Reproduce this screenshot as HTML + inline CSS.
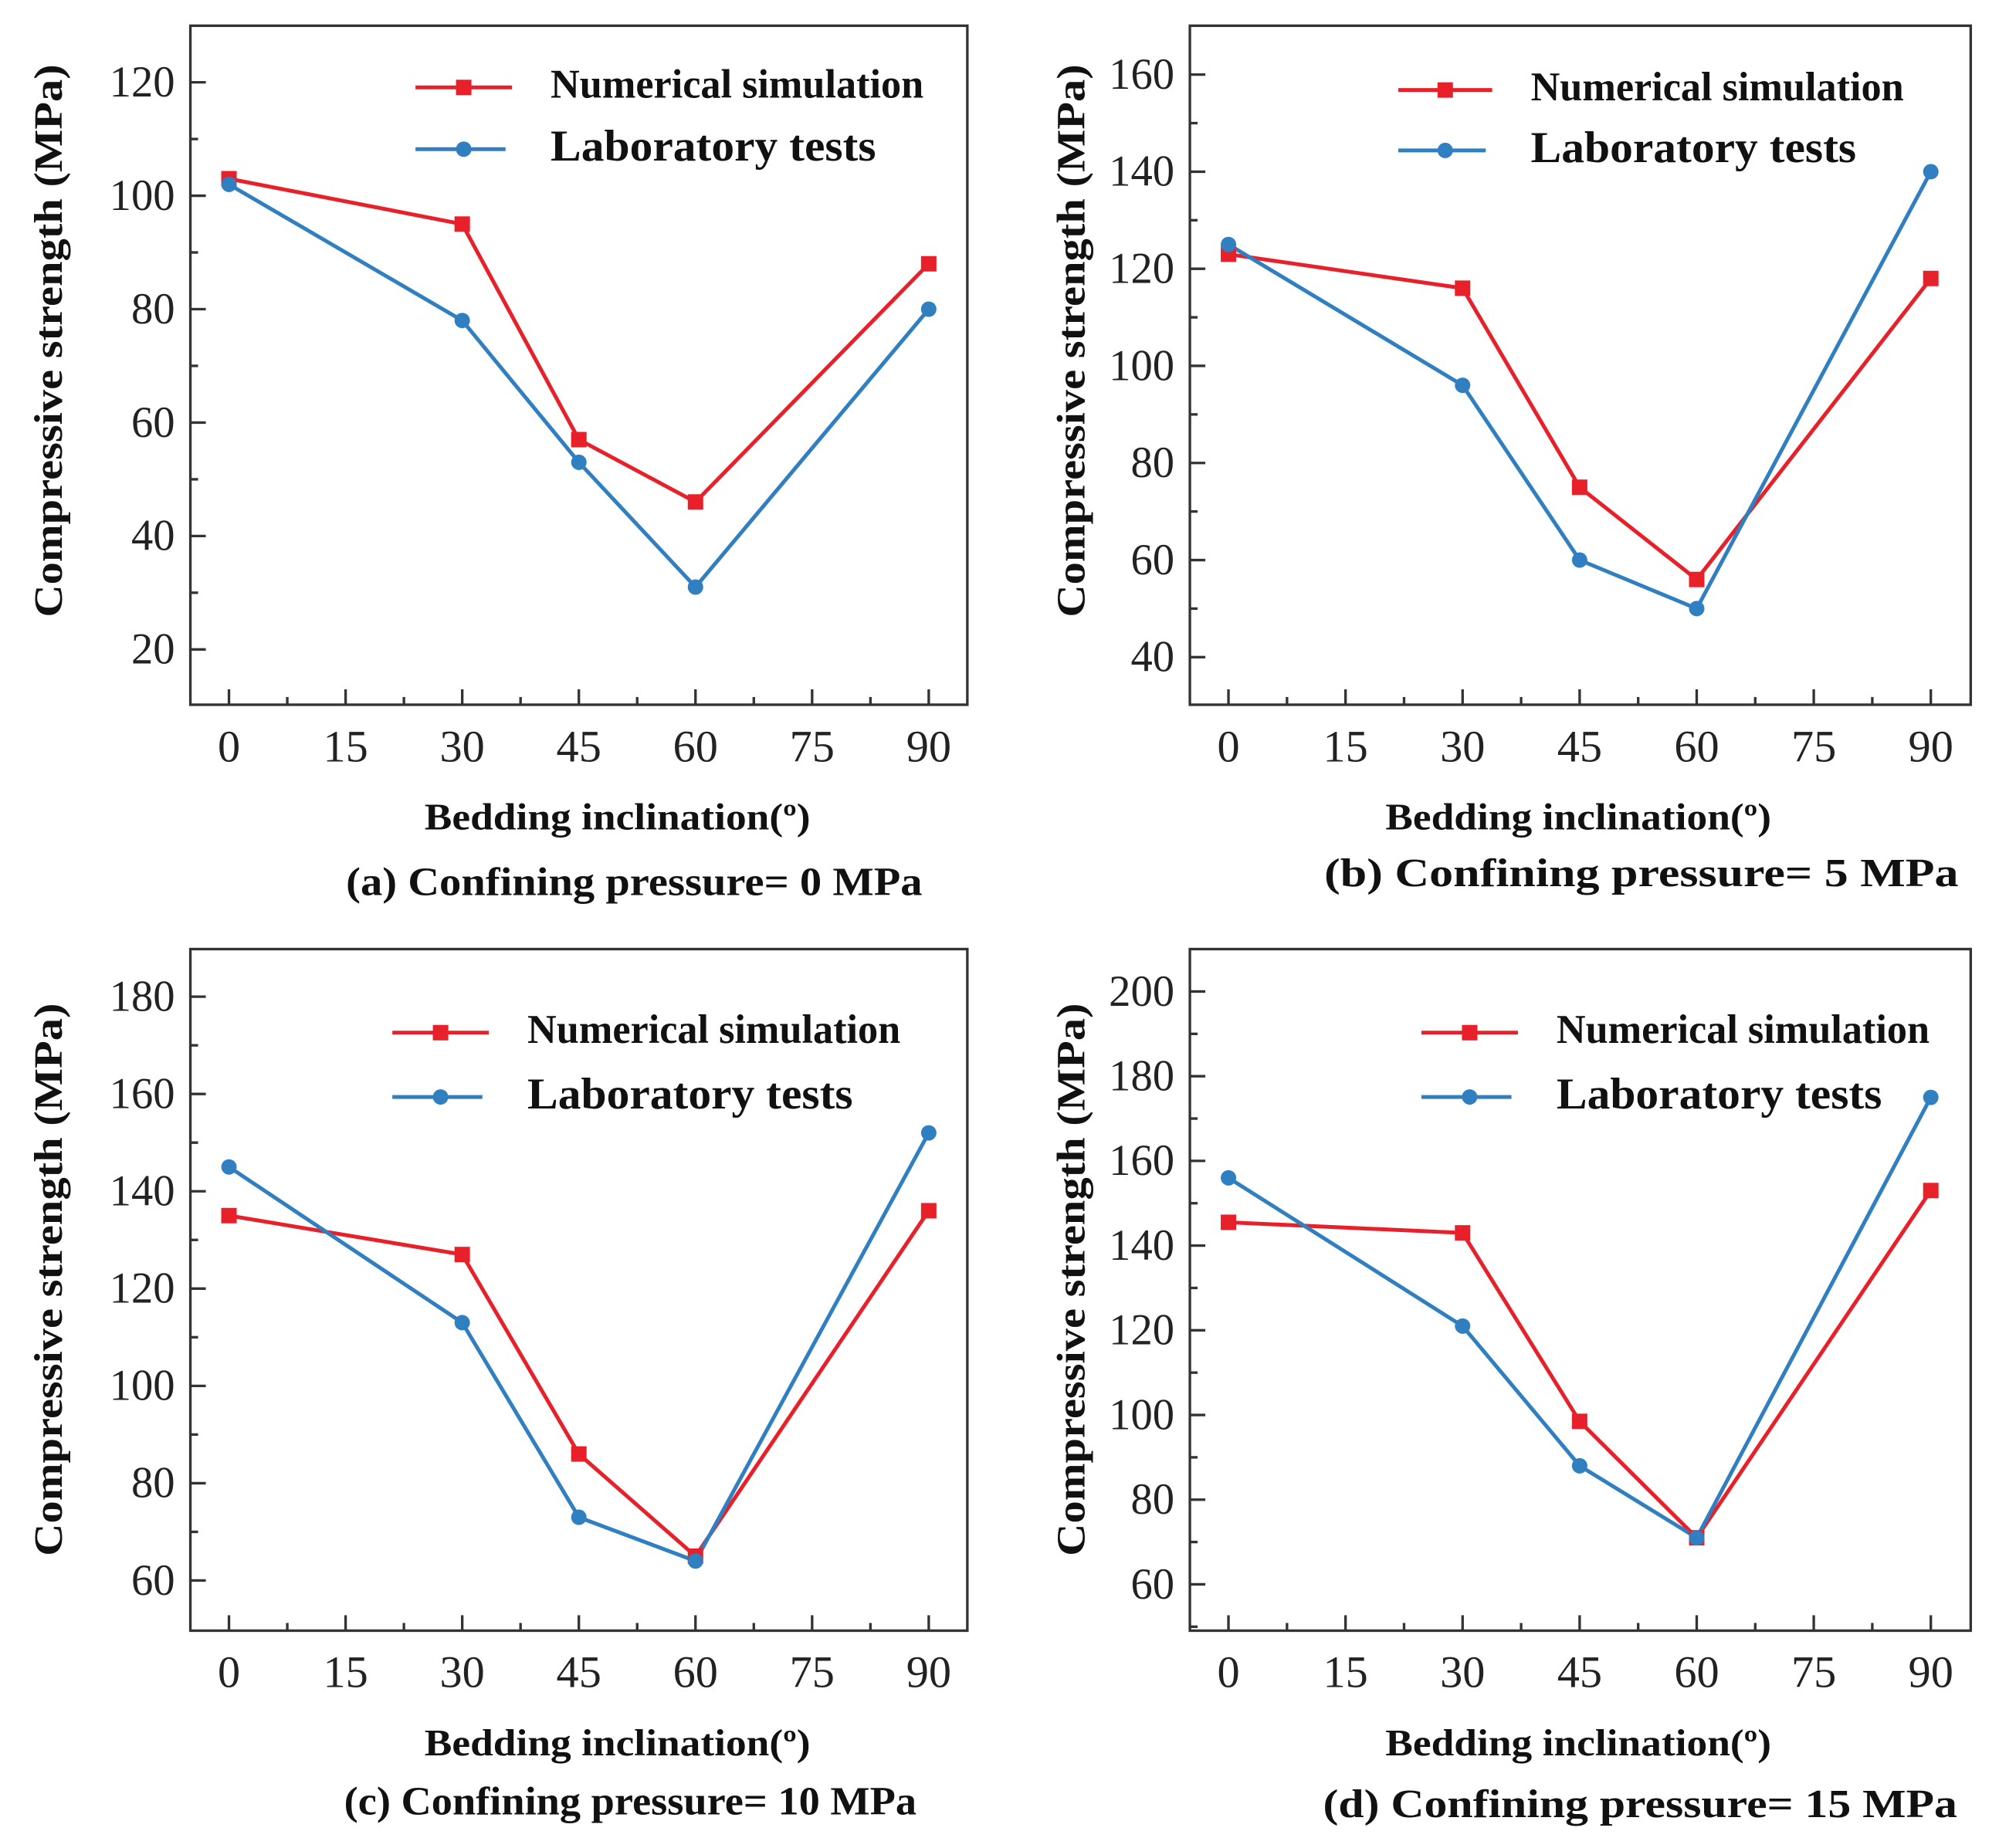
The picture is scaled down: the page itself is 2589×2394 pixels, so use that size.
<!DOCTYPE html>
<html><head><meta charset="utf-8"><style>html,body{margin:0;padding:0;background:#fff}svg{display:block}</style></head>
<body>
<svg id="fig" width="2589" height="2394" viewBox="0 0 1554 1437" preserveAspectRatio="none" xmlns="http://www.w3.org/2000/svg" font-family="'Liberation Serif', serif"></svg>
<script>
const xCats = [0, 30, 45, 60, 90];
const xTicks = [0, 15, 30, 45, 60, 75, 90];
const numA = [103, 95, 57, 46, 88];
const labA = [102, 78, 53, 31, 80];
const numB = [123, 116, 75, 56, 118];
const labB = [125, 96, 60, 50, 140];
const numC = [135, 127, 86, 65, 136];
const labC = [145, 113, 73, 64, 152];
const numD = [145.5, 143, 98.5, 71, 153];
const labD = [156, 121, 88, 71, 175];
const yTicksA = [20, 40, 60, 80, 100, 120];
const yTicksB = [40, 60, 80, 100, 120, 140, 160];
const yTicksC = [60, 80, 100, 120, 140, 160, 180];
const yTicksD = [60, 80, 100, 120, 140, 160, 180, 200];
const captions = ["(a) Confining pressure= 0 MPa","(b) Confining pressure= 5 MPa","(c) Confining pressure= 10 MPa","(d) Confining pressure= 15 MPa"];

const NS = "http://www.w3.org/2000/svg";
const svg = document.getElementById('fig');
function mk(tag, attrs, parent, text){const e=document.createElementNS(NS,tag);for(const k in attrs)e.setAttribute(k,attrs[k]);if(text!==undefined)e.textContent=text;(parent||svg).appendChild(e);return e;}

const panels = [
 {id:'a',fx0:148,fx1:752,fy0:20,fy1:548,x0:178,x90:722,yv:[505,64],yvals:[20,120],yTicks:yTicksA,minor:10,num:numA,lab:labA,leg:[323,398,428,68,116],title:[480,635],cap:[493,685],yt:[37,265]},
 {id:'b',fx0:925,fx1:1532,fy0:20,fy1:548,x0:955,x90:1501,yv:[511,58],yvals:[40,160],yTicks:yTicksB,minor:10,num:numB,lab:labB,leg:[1087,1160,1190,70,117],title:[1227,635],cap:[1276,678],yt:[832,265]},
 {id:'c',fx0:148,fx1:752,fy0:738,fy1:1268,x0:178,x90:722,yv:[1229,775],yvals:[60,180],yTicks:yTicksC,minor:10,num:numC,lab:labC,leg:[305,380,410,803,853],title:[480,1355],cap:[490,1400],yt:[37,995]},
 {id:'d',fx0:925,fx1:1532,fy0:738,fy1:1268,x0:955,x90:1501,yv:[1232,771],yvals:[60,200],yTicks:yTicksD,minor:10,num:numD,lab:labD,leg:[1105,1180,1210,803,853],title:[1227,1355],cap:[1275,1402],yt:[832,995]}
];

panels.forEach((p,i)=>{
  const g = mk('g',{});
  
  
  const xs = v => p.x0 + (p.x90-p.x0)*v/90;
  const ys = v => p.yv[0] + (p.yv[1]-p.yv[0])*(v-p.yvals[0])/(p.yvals[1]-p.yvals[0]);
  const frame = mk('rect',{x:p.fx0,y:p.fy0,width:p.fx1-p.fx0,height:p.fy1-p.fy0,fill:'none',stroke:'#333','stroke-width':2},g);
  
  
  for(let v=0; v<=90; v+=7.5){
    const major = v%15===0;
    mk('line',{x1:xs(v),x2:xs(v),y1:p.fy1,y2:p.fy1-(major?12:6),stroke:'#333','stroke-width':2},g);
  }
  xTicks.forEach(v=>{
    const t = mk('text',{x:xs(v),y:p.fy1+44,'font-size':35,'text-anchor':'middle',fill:'#222'},g,String(v));
    
    
  });
  const ymin = p.yTicks[0]-20, ymax=p.yTicks[p.yTicks.length-1]+20;
  for(let v=ymin; v<=ymax; v+=p.minor){
    const y=ys(v); if(y<p.fy0+2||y>p.fy1-2) continue;
    const major = (v-p.yTicks[0])%20===0;
    mk('line',{x1:p.fx0,x2:p.fx0+(major?12:6),y1:y,y2:y,stroke:'#333','stroke-width':2},g);
  }
  p.yTicks.forEach(v=>{
    const t = mk('text',{x:p.fx0-12,y:ys(v)+11,'font-size':34,'text-anchor':'end',fill:'#222'},g,String(v));
    
    
  });
  const line = (vals,color,name)=>{
    const pl = mk('polyline',{points:vals.map((v,k)=>xs(xCats[k])+','+ys(v)).join(' '),fill:'none',stroke:color,'stroke-width':3},g);
    
    
  };
  line(p.num,'#e8202a','numerical');
  line(p.lab,'#2f7fc1','laboratory');
  p.num.forEach((v,k)=>{
    const r=mk('rect',{x:xs(xCats[k])-6,y:ys(v)-6,width:12,height:12,fill:'#e8202a'},g);
    
    
  });
  p.lab.forEach((v,k)=>{
    const c=mk('circle',{cx:xs(xCats[k]),cy:ys(v),r:6,fill:'#2f7fc1'},g);
    
    
  });
  const [l0,l1,tx,y1,y2]=p.leg;
  const lg = mk('g',{},g);
  
  
  mk('line',{x1:l0,x2:l1,y1:y1,y2:y1,stroke:'#e8202a','stroke-width':3},lg);
  mk('rect',{x:(l0+l1)/2-6,y:y1-6,width:12,height:12,fill:'#e8202a'},lg);
  const t1=mk('text',{x:tx,y:y1+8,'font-size':32,'font-weight':'bold',fill:'#111',textLength:290,lengthAdjust:'spacingAndGlyphs'},lg,'Numerical simulation');
  
  
  mk('line',{x1:l0,x2:l1-5,y1:y2,y2:y2,stroke:'#2f7fc1','stroke-width':3},lg);
  mk('circle',{cx:(l0+l1)/2,cy:y2,r:6,fill:'#2f7fc1'},lg);
  const t2=mk('text',{x:tx,y:y2+9,'font-size':34,'font-weight':'bold',fill:'#111',textLength:253,lengthAdjust:'spacingAndGlyphs'},lg,'Laboratory tests');
  
  
  const xt=mk('text',{x:p.title[0],y:p.title[1]+10,'font-size':29,'font-weight':'bold','text-anchor':'middle',fill:'#111',textLength:300,lengthAdjust:'spacingAndGlyphs'},g,'Bedding inclination(\u00BA)');
  
  
  const yt=mk('text',{x:0,y:0,'font-size':31,'font-weight':'bold','text-anchor':'middle',fill:'#111',transform:`translate(${p.yt[0]+11},${p.yt[1]}) rotate(-90)`,textLength:430,lengthAdjust:'spacingAndGlyphs'},g,'Compressive strength (MPa)');
  
  
  const cp=mk('text',{x:p.cap[0],y:p.cap[1]+11,'font-size':31,'font-weight':'bold','text-anchor':'middle',fill:'#111',textLength:[448,493,445,493][i],lengthAdjust:'spacingAndGlyphs'},g,captions[i]);
  
  
});
</script>
</body></html>
